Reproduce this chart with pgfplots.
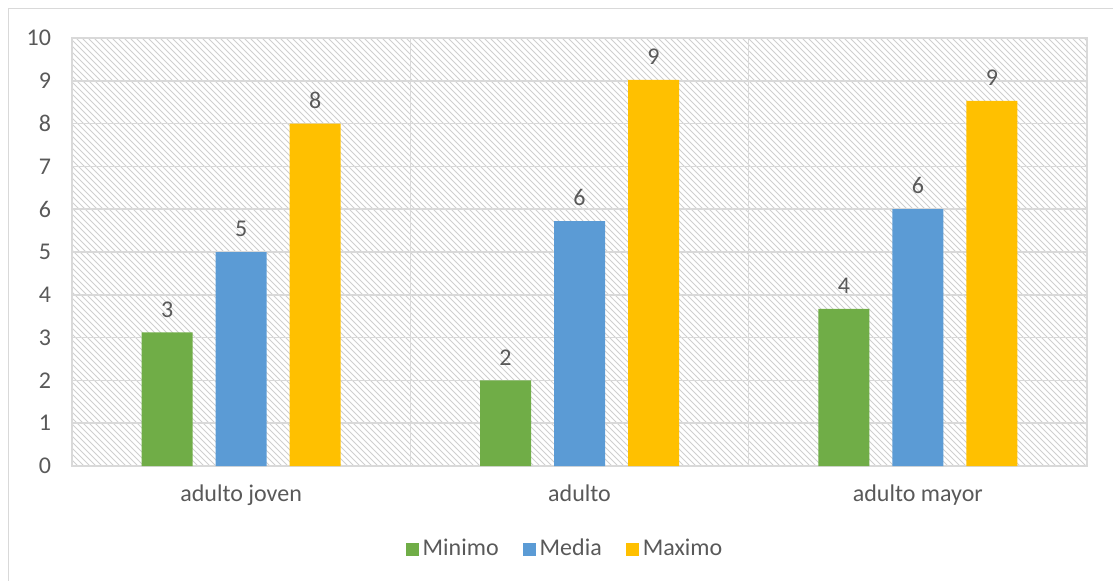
\documentclass[border=0pt]{standalone}
\usepackage{pgfplots}
\pgfplotsset{compat=1.18}
\usepackage{fontspec}
\setmainfont{Carlito}
\usetikzlibrary{patterns}
\definecolor{cgreen}{HTML}{70AD47}
\definecolor{cblue}{HTML}{5B9BD5}
\definecolor{cyellow}{HTML}{FFC000}
\definecolor{ctext}{HTML}{595959}
\definecolor{cgrid}{HTML}{D9D9D9}
\definecolor{chatch}{HTML}{CFCFCF}
\begin{document}
\begin{tikzpicture}
\useasboundingbox (0pt,0pt) rectangle (556.5pt,290pt);
\draw[cgrid, line width=0.8pt] (4.25pt,285.75pt) -- (570pt,285.75pt);
\draw[cgrid, line width=0.8pt] (4.25pt,285.75pt) -- (4.25pt,-10pt);
\begin{axis}[
  at={(36pt,57pt)}, anchor=south west,
  scale only axis, width=507.5pt, height=214pt,
  ymin=0, ymax=10, ytick={0,1,...,10},
  xmin=-0.5, xmax=2.5,
  xtick={0,1,2},
  xticklabels={adulto joven, adulto, adulto mayor},
  minor xtick={0.5,1.5},
  xminorgrids, ymajorgrids,
  grid style={cgrid, line width=0.8pt},
  minor grid style={cgrid, line width=0.8pt},
  axis line style={cgrid, line width=0.8pt},
  major tick length=0pt, minor tick length=0pt,
  axis background/.style={pattern=north west lines, pattern color=chatch},
  ticklabel style={font=\fontsize{12}{14}\selectfont, text=ctext},
  yticklabel style={xshift=-7pt},
  xticklabel style={yshift=-6pt},
  /pgf/number format/assume math mode=true,
  ybar, bar width=25.5pt,
  nodes near coords,
  nodes near coords style={font=\fontsize{12}{14}\selectfont, text=ctext, anchor=south, yshift=4pt,
    /pgf/number format/.cd, fixed, precision=0},
  legend columns=3,
  legend style={at={(rel axis cs:0.4867,-0.194)}, anchor=center, draw=none, fill=none,
    font=\fontsize{12}{14}\selectfont, text=ctext,
    /tikz/every even column/.append style={column sep=10pt}},
  legend image code/.code={\fill[#1] (0pt,-3.25pt) rectangle (6.5pt,3.25pt);},
]
\addplot[fill=cgreen, draw=none, bar shift=-37pt] coordinates {(0,3.12) (1,2.0) (2,3.67)};
\addplot[fill=cblue, draw=none, bar shift=0pt] coordinates {(0,5.0) (1,5.72) (2,6.0)};
\addplot[fill=cyellow, draw=none, bar shift=37pt] coordinates {(0,8.0) (1,9.02) (2,8.53)};
\legend{Minimo, Media, Maximo}
\end{axis}
\end{tikzpicture}
\end{document}
